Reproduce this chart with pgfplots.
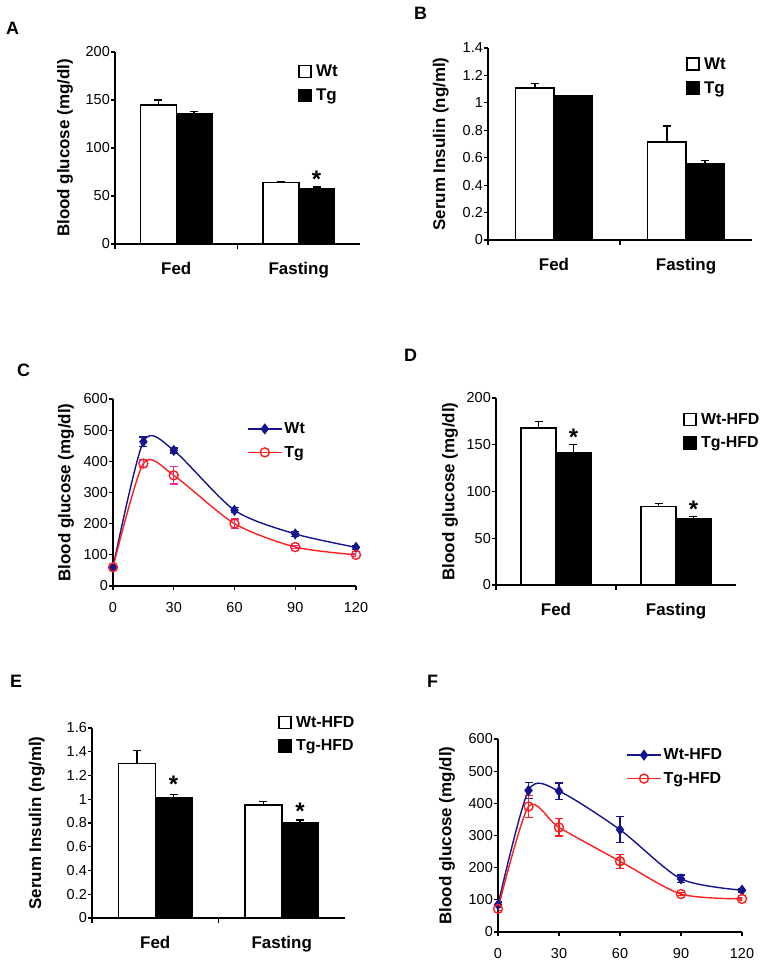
\documentclass[border=0pt]{standalone}
\usepackage{fontspec}
\setmainfont{Liberation Sans}
\usepackage{pgfplots}
\pgfplotsset{compat=1.18}
\definecolor{wtblue}{RGB}{20,20,140}
\definecolor{tgred}{RGB}{255,30,30}
\definecolor{tgpink}{RGB}{235,40,150}

\pgfplotsset{
  base/.style={scale only axis, axis x line*=bottom, axis y line*=left,
    axis line style={line width=1.2bp,-}, tick align=outside,
    tick style={line width=1.2bp, black}, major tick length=4bp,
    /pgf/number format/assume math mode=true,
    tick label style={font=\fontsize{14.5}{16}\selectfont},
    yticklabel style={inner sep=1bp},
    ylabel style={font=\bfseries\fontsize{17}{19}\selectfont, inner sep=0pt, anchor=south},
    legend style={draw=none, fill=none, inner sep=0pt, anchor=north west, row sep=7bp,
      font=\bfseries\fontsize{17}{19}\selectfont},
    legend cell align=left,
  },
  barax/.style={base, xmin=-0.5, xmax=1.5, xtick={0,1}, xticklabels={Fed,Fasting},
    major x tick style={draw=none}, minor xtick={-0.5,0.5}, minor tick length=5bp,
    minor x tick style={draw=black, line width=1.2bp},
    xticklabel style={font=\bfseries\fontsize{17}{19}\selectfont, inner sep=0pt, yshift=-14bp},
    legend style={column sep=2.5bp},
    legend image code/.code={\draw[#1, line width=1.4bp] (0bp,-6bp) rectangle (12bp,6bp);}},
  lineax/.style={base, xmin=0, xmax=120, xtick={0,30,60,90,120}, ymin=0, ymax=600,
    ytick={0,100,...,600}, xticklabel style={inner sep=0pt, yshift=-12bp},
    legend image code/.code={\draw[#1, mark repeat=2, mark phase=2] plot coordinates {(0bp,0bp) (17bp,0bp) (34bp,0bp)};}},
  wtbar/.style={ybar, draw=black, fill=white, line width=1.5bp, bar width=0.29, bar shift=0pt,
    error bars/.cd, y dir=plus, y explicit, error bar style={line width=1.4bp, black},
    error mark options={rotate=90, line width=1.4bp, black, mark size=4bp}},
  tgbar/.style={ybar, draw=black, fill=black, line width=1.5bp, bar width=0.29, bar shift=0pt,
    error bars/.cd, y dir=plus, y explicit, error bar style={line width=1.4bp, black},
    error mark options={rotate=90, line width=1.4bp, black, mark size=4bp}},
  wtline/.style={wtblue, line width=1.4bp, smooth, tension=0.45, mark=diamond*, mark size=4.5bp,
    mark options={solid, fill=wtblue},
    error bars/.cd, y dir=both, y explicit, error bar style={line width=1.3bp, wtblue},
    error mark options={rotate=90, line width=1.3bp, wtblue, mark size=4bp}},
  tgline/.style={tgred, line width=1.4bp, smooth, tension=0.45, mark=o, mark size=4.5bp,
    mark options={solid, fill=white, line width=1.4bp}},
}
\newcommand{\starfont}{\bfseries\fontsize{24}{24}\selectfont}
\newcommand{\letterfont}{\bfseries\fontsize{18}{20}\selectfont}

\begin{document}
\begin{tikzpicture}[x=1bp,y=1bp]
\useasboundingbox (0,0) rectangle (762,963);

% ---------------- A ----------------
\node[anchor=base west, font=\letterfont, inner sep=0pt] at (6,928) {A};
\begin{axis}[barax, at={(115bp,719bp)}, anchor=south west, width=245bp, height=192bp,
  ymin=0, ymax=200, ytick={0,50,...,200},
  ylabel={Blood glucose (mg/dl)},
  ylabel style={at={(axis description cs:-0.171,0.5)}},
  legend style={at={(axis description cs:0.747,0.945)}}]
\addplot[wtbar] coordinates {(-0.145,145) +- (0,5) (0.855,64) +- (0,1)};
\addplot[tgbar] coordinates {(0.145,136) +- (0,2) (1.145,58) +- (0,1.2)};
\legend{Wt,Tg}
\node[font=\starfont, yshift=-4bp] at (axis cs:1.145,72) {*};
\end{axis}

% ---------------- B ----------------
\node[anchor=base west, font=\letterfont, inner sep=0pt] at (414,943) {B};
\begin{axis}[barax, at={(488bp,723bp)}, anchor=south west, width=264bp, height=192bp,
  ymin=0, ymax=1.4, ytick={0,0.2,...,1.4},
  ylabel={Serum Insulin (ng/ml)},
  ylabel style={at={(axis description cs:-0.148,0.5)}},
  legend style={at={(axis description cs:0.75,0.962)}}]
\addplot[wtbar] coordinates {(-0.145,1.11) +- (0,0.03) (0.855,0.715) +- (0,0.115)};
\addplot[tgbar] coordinates {(0.145,1.05) +- (0,0.005) (1.145,0.555) +- (0,0.025)};
\legend{Wt,Tg}
\end{axis}

% ---------------- C ----------------
\node[anchor=base west, font=\letterfont, inner sep=0pt] at (17,586) {C};
\begin{axis}[lineax, at={(113bp,377bp)}, anchor=south west, width=243bp, height=187bp,
  ylabel={Blood glucose (mg/dl)},
  ylabel style={at={(axis description cs:-0.160,0.5)}},
  legend style={at={(axis description cs:0.551,0.885)}, font=\bfseries\fontsize{16}{18}\selectfont}]
\addplot[wtline] table[x=x, y=y, y error=e] {
x y e
0 60 5
15 463 15
30 435 8
60 243 8
90 167 8
120 124 6
};
\addplot[tgline, error bars/.cd, y dir=both, y explicit, error bar style={line width=1.3bp, tgpink},
  error mark options={rotate=90, line width=1.3bp, tgpink, mark size=4bp}] table[x=x, y=y, y error=e] {
x y e
0 60 5
15 393 12
30 355 28
60 200 15
90 125 5
120 100 5
};
\legend{Wt,Tg}
\end{axis}

% ---------------- D ----------------
\node[anchor=base west, font=\letterfont, inner sep=0pt] at (404,601) {D};
\begin{axis}[barax, at={(496bp,378bp)}, anchor=south west, width=240bp, height=187bp,
  ymin=0, ymax=200, ytick={0,50,...,200},
  ylabel={Blood glucose (mg/dl)},
  ylabel style={at={(axis description cs:-0.158,0.5)}},
  legend style={at={(axis description cs:0.779,0.93)}, font=\bfseries\fontsize{16}{18}\selectfont}]
\addplot[wtbar] coordinates {(-0.145,168) +- (0,7) (0.855,84) +- (0,3)};
\addplot[tgbar] coordinates {(0.145,141) +- (0,9) (1.145,71) +- (0,2)};
\legend{Wt-HFD,Tg-HFD}
\node[font=\starfont, yshift=-4bp] at (axis cs:0.145,162.6) {*};
\node[font=\starfont, yshift=-4bp] at (axis cs:1.145,85.6) {*};
\end{axis}

% ---------------- E ----------------
\node[anchor=base west, font=\letterfont, inner sep=0pt] at (10,275) {E};
\begin{axis}[barax, at={(92bp,45bp)}, anchor=south west, width=253bp, height=190bp,
  ymin=0, ymax=1.6, ytick={0,0.2,...,1.6},
  ylabel={Serum Insulin (ng/ml)},
  ylabel style={at={(axis description cs:-0.186,0.5)}},
  legend style={at={(axis description cs:0.735,1.072)}, font=\bfseries\fontsize{16}{18}\selectfont}]
\addplot[wtbar] coordinates {(-0.145,1.30) +- (0,0.11) (0.855,0.95) +- (0,0.03)};
\addplot[tgbar] coordinates {(0.145,1.01) +- (0,0.03) (1.145,0.80) +- (0,0.025)};
\legend{Wt-HFD,Tg-HFD}
\node[font=\starfont, yshift=-4bp] at (axis cs:0.145,1.162) {*};
\node[font=\starfont, yshift=-4bp] at (axis cs:1.145,0.935) {*};
\end{axis}

% ---------------- F ----------------
\node[anchor=base west, font=\letterfont, inner sep=0pt] at (427,275) {F};
\begin{axis}[lineax, at={(498bp,31bp)}, anchor=south west, width=244bp, height=193bp,
  ylabel={Blood glucose (mg/dl)},
  ylabel style={at={(axis description cs:-0.176,0.5)}},
  legend style={at={(axis description cs:0.525,0.96)}, font=\bfseries\fontsize{16}{18}\selectfont}]
\addplot[wtline] table[x=x, y=y, y error=e] {
x y e
0 85 8
15 440 25
30 438 25
60 318 40
90 165 12
120 130 6
};
\addplot[tgline, error bars/.cd, y dir=both, y explicit, error bar style={line width=1.3bp, tgred},
  error mark options={rotate=90, line width=1.3bp, tgred, mark size=4bp}] table[x=x, y=y, y error=e] {
x y e
0 72 6
15 390 35
30 325 27
60 220 22
90 118 5
120 103 5
};
\legend{Wt-HFD,Tg-HFD}
\end{axis}
\end{tikzpicture}
\end{document}
